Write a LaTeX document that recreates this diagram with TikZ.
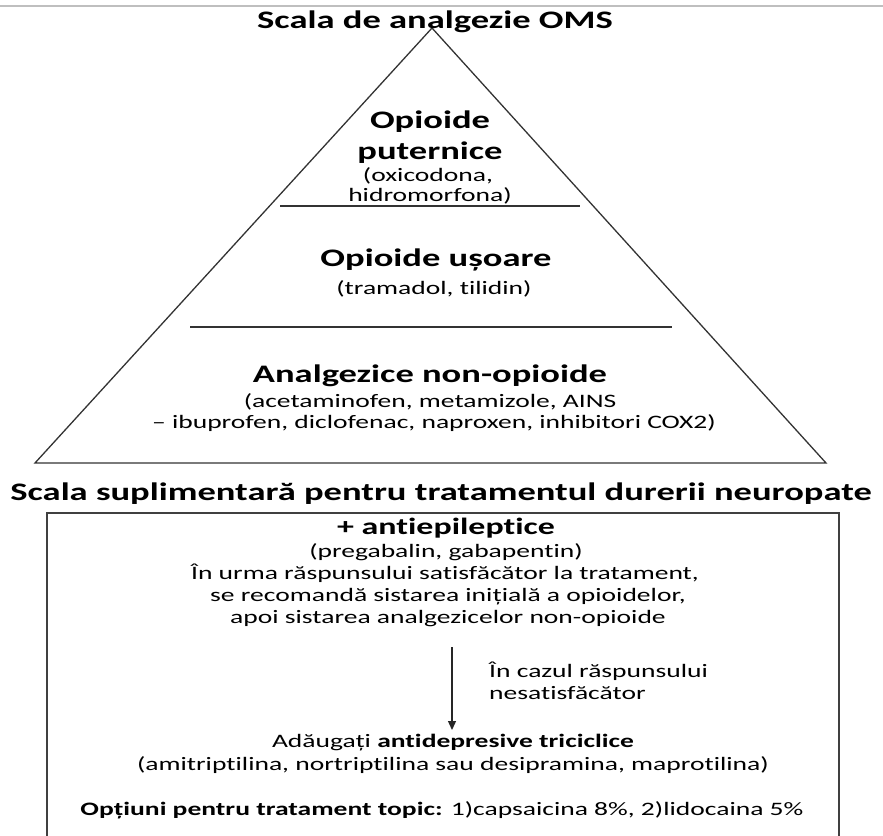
\documentclass[tikz,border=0pt]{standalone}
\usepackage{fontspec}
\setmainfont{Carlito}[RawFeature={-liga;-clig;-dlig;-calt}]
\usepackage{graphicx}
\usetikzlibrary{arrows.meta}
\def\hsf{1.45}
\newcommand{\hs}[1]{\scalebox{\hsf}[1]{#1}}
\newcommand{\fr}{\fontsize{19}{22}\selectfont}
\newcommand{\fbig}{\fontsize{25.2}{32}\selectfont\bfseries}
\newcommand{\fmid}{\fontsize{23.4}{28}\selectfont\bfseries}
\begin{document}
\begin{tikzpicture}[x=1pt,y=-1pt,
  line/.style={draw=black!80,line width=1.3pt},
  boxline/.style={draw=black!75,line width=1.8pt},
  txt/.style={inner sep=0pt,anchor=base,text=black},
  txtl/.style={inner sep=0pt,anchor=base west,text=black}]
\useasboundingbox (0,0) rectangle (883,835);
% faint top rule
\draw[black!25,line width=1.5pt] (0,6) -- (883,6);
% pyramid
\coordinate (apex) at (432,28);
\coordinate (bl) at (35,463);
\coordinate (br) at (826,463);
\draw[line] (bl) -- (apex) -- (br) -- cycle;
\coordinate (l1a) at (280,206); \coordinate (l1b) at (580,206);
\coordinate (l2a) at (190,327); \coordinate (l2b) at (672,327);
\draw[line] (l1a) -- (l1b);
\draw[line] (l2a) -- (l2b);
% titles
\node[txt,font=\fbig] (t1) at (435,28) {\hs{Scala de analgezie OMS}};
\node[txt,font=\fbig] (t2) at (441,500) {\hs{Scala suplimentară pentru tratamentul durerii neuropate}};
% pyramid text
\node[txt,font=\fbig] (a1) at (430,128) {\hs{Opioide}};
\node[txt,font=\fbig] (a2) at (430,159) {\hs{puternice}};
\node[txt,font=\fr] (a3) at (428,181) {\hs{(oxicodona,}};
\node[txt,font=\fr] (a4) at (430,201) {\hs{hidromorfona)}};
\node[txt,font=\fbig] (b1) at (436,266) {\hs{Opioide ușoare}};
\node[txt,font=\fr] (b2) at (434,294) {\hs{(tramadol, tilidin)}};
\node[txt,font=\fbig] (c1) at (430,382) {\hs{Analgezice non-opioide}};
\node[txt,font=\fr] (c2) at (430,407) {\hs{(acetaminofen, metamizole, AINS}};
\node[txt,font=\fr] (c3) at (434,428) {\hs{– ibuprofen, diclofenac, naproxen, inhibitori COX2)}};
% box
\coordinate (bxbl) at (47,836);
\coordinate (bxtl) at (47,513);
\coordinate (bxtr) at (839,513);
\coordinate (bxbr) at (839,836);
\draw[boxline] (bxbl) -- (bxtl) -- (bxtr) -- (bxbr);
% box text
\node[txt,font=\fmid] (d1) at (446,534) {\hs{+ antiepileptice}};
\node[txt,font=\fr] (d2) at (446,557) {\hs{(pregabalin, gabapentin)}};
\node[txt,font=\fr] (d3) at (445,579) {\hs{În urma răspunsului satisfăcător la tratament,}};
\node[txt,font=\fr] (d4) at (448,601) {\hs{se recomandă sistarea inițială a opioidelor,}};
\node[txt,font=\fr] (d5) at (448,623) {\hs{apoi sistarea analgezicelor non-opioide}};
\node[txtl,font=\fr] (e1) at (489,677) {\hs{În cazul răspunsului}};
\node[txtl,font=\fr] (e2) at (489,699) {\hs{nesatisfăcător}};
\node[txt,font=\fr] (f1) at (453,747) {\hs{Adăugați \textbf{antidepresive triciclice}}};
\node[txt,font=\fr] (f2) at (453,770) {\hs{(amitriptilina, nortriptilina sau desipramina, maprotilina)}};
\node[txt,font=\fr] (g1) at (442,815) {\hs{\textbf{Opțiuni pentru tratament topic:} 1)capsaicina 8\%, 2)lidocaina 5\%}};
% arrow
\coordinate (arA) at (452,647);
\coordinate (arB) at (452,730);
\draw[black!85,line width=1.3pt,-{Stealth[length=9pt,width=8pt,inset=0pt]}] (arA) -- (arB);
\end{tikzpicture}
\end{document}
